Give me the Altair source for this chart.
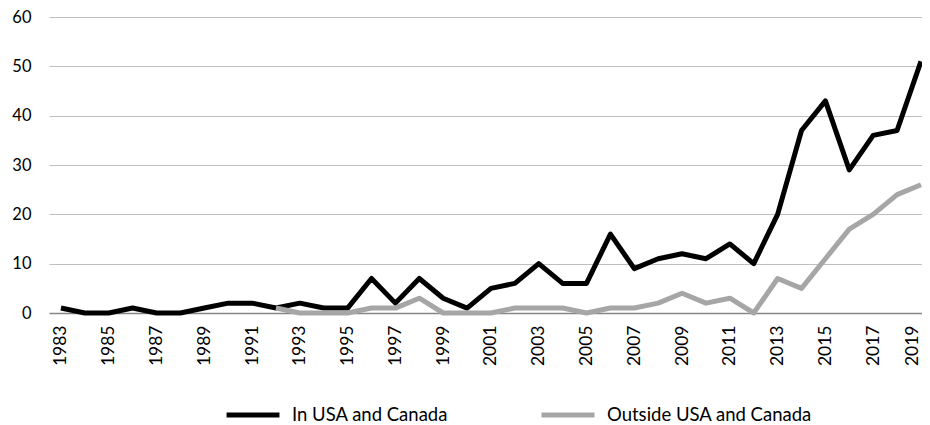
import altair as alt
import pandas as pd

years = list(range(1983, 2020))
in_usa = [1, 0, 0, 1, 0, 0, 1, 2, 2, 1, 2, 1, 1, 7, 2, 7, 3, 1, 5, 6, 10, 6, 6, 16, 9, 11, 12, 11, 14, 10, 20, 37, 43, 29, 36, 37, 51]
outside_years = list(range(1992, 2020))
outside = [1, 0, 0, 0, 1, 1, 3, 0, 0, 0, 1, 1, 1, 0, 1, 1, 2, 4, 2, 3, 0, 7, 5, 11, 17, 20, 24, 26]
series_names = ["In USA and Canada", "Outside USA and Canada"]
tick_years = [y for y in years if y % 2 == 1]
y_ticks = [0, 10, 20, 30, 40, 50, 60]

rows = [{"year": y, "value": v, "series": series_names[0]} for y, v in zip(years, in_usa)]
rows += [{"year": y, "value": v, "series": series_names[1]} for y, v in zip(outside_years, outside)]
df = pd.DataFrame(rows)

FONT = "Lato"

chart = alt.Chart(df).mark_line(strokeWidth=5, strokeJoin="round").encode(
    x=alt.X("year:O", sort=years,
            scale=alt.Scale(type="point", padding=0.272, align=0.92, domain=years),
            axis=alt.Axis(title=None, values=tick_years, labelAngle=270, labelAlign="right",
                          labelBaseline="middle", labelPadding=12, ticks=False,
                          labelOffset={"condition": {"test": "datum.value == 2019", "value": -8}, "value": 0},
                          domainColor="#868686", domainWidth=1.5, grid=False,
                          labelFont=FONT, labelFontSize=17.5, labelColor="#000000")),
    y=alt.Y("value:Q", scale=alt.Scale(domain=[0, 60], nice=False),
            axis=alt.Axis(title=None, values=y_ticks, ticks=False, domain=False,
                          gridColor="#bfbfbf", gridWidth=1.2, labelPadding=18,
                          labelFont=FONT, labelFontSize=16.5, labelColor="#000000")),
    color=alt.Color("series:N", sort=series_names,
                    scale=alt.Scale(domain=series_names, range=["#000000", "#a6a6a6"]),
                    legend=alt.Legend(title=None, orient="none", direction="horizontal",
                                      legendX=175, legendY=369, symbolType="stroke",
                                      symbolSize=2800, symbolStrokeWidth=5,
                                      labelFont=FONT, labelFontSize=18.5, labelColor="#000000",
                                      labelLimit=400, gridAlign="each",
                                      labelOffset=10, columnPadding=82)),
    order=alt.Order("series:N"),
).properties(
    width=873, height=296,
    autosize=alt.AutoSizeParams(type="none"),
    padding={"left": 41, "top": 9, "right": 0, "bottom": 112},
).configure_view(stroke=None)

chart.save("out.html", embed_options={"renderer": "svg", "actions": False})
